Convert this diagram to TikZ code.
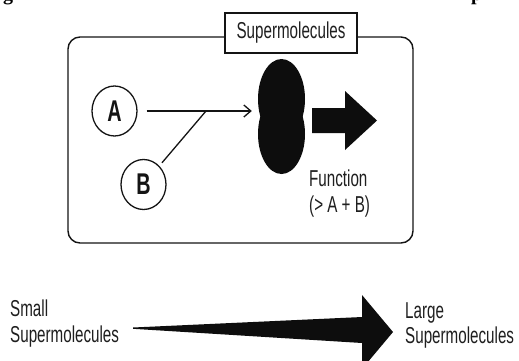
\documentclass[tikz,border=0pt]{standalone}
\usepackage{fontspec}
\setmainfont{Liberation Sans}
\newfontfamily\narrowsans{Liberation Sans}[FakeStretch=0.66]
\newfontfamily\titleserif{Liberation Serif}
\usetikzlibrary{shapes.geometric,arrows.meta}

\begin{document}
\begin{tikzpicture}[x=1pt,y=-1pt,
  ink/.style={draw=black!92},
  txt/.style={font=\narrowsans\fontsize{23}{25.5}\selectfont, text=black!88, inner sep=0pt, align=left},
  frame/.style={ink, line width=1.4pt, rounded corners=12pt, inner sep=0pt},
  tag/.style={ink, fill=white, line width=1.2pt, inner sep=0pt, minimum width=132pt, minimum height=40pt,
    font=\narrowsans\fontsize{23}{25}\selectfont, text=black!88},
  mol/.style={ellipse, ink, line width=1.3pt, minimum width=45pt, minimum height=50pt, inner sep=0pt,
    font=\narrowsans\bfseries\fontsize{30}{32}\selectfont, text=black!92},
  conn/.style={ink, line width=1.3pt},
  solid black/.style={fill=black!95}
]
\useasboundingbox (0,0) rectangle (519,360);
\fill[white] (0,0) rectangle (519,360);

% caption line running off the top edge
\node[anchor=base west, inner sep=0pt, font=\titleserif\bfseries\fontsize{20}{22}\selectfont] (capl) at (3,0) {g};
\node[anchor=base west, inner sep=0pt, font=\titleserif\bfseries\fontsize{20}{22}\selectfont] (capr) at (471,0) {p};

% rounded frame with its title tab
\node[frame, minimum width=345pt, minimum height=206pt] (frame) at (240.5,140) {};
\node[tag] (title) at (291,33) {Supermolecules};

% the two components
\node[mol] (A) at (114.5,111) {A};
\node[mol] (B) at (143.5,184.5) {B};

% the assembled supermolecule (two fused lobes)
\node[inner sep=0pt, minimum width=47pt, minimum height=114pt] (blob) at (281.5,116.5) {};
\fill[solid black] (281.5,99) ellipse [x radius=23.5, y radius=40];
\fill[solid black] (281.5,134) ellipse [x radius=23.5, y radius=40];

% assembly connectors
\coordinate (join) at (206,111);
\draw[conn, -{Straight Barb[length=7pt,width=12pt,line width=1.3pt]}, shorten <=9pt, shorten >=6pt]
  (A.east) -- (A.east -| blob.west);
\draw[conn, shorten <=4pt] (B) -- (join);

% output arrow and its label
\fill[solid black] (312,108) -- (345,108) -- (345,91) -- (377,120.5) -- (345,150) -- (345,133) -- (312,133) -- cycle;
\node[txt, anchor=north west] (func) at (309,170) {Function\\(> A + B)};

% size scale along the bottom
\node[txt, anchor=north west] (small) at (10,300) {Small\\Supermolecules};
\node[txt, anchor=north west] (large) at (405,302) {Large\\Supermolecules};
\fill[solid black] (133,327.5) -- (362,317) -- (362,295) -- (393,332) -- (362,369) -- (362,343) -- (133,328.8) -- cycle;
\end{tikzpicture}
\end{document}
